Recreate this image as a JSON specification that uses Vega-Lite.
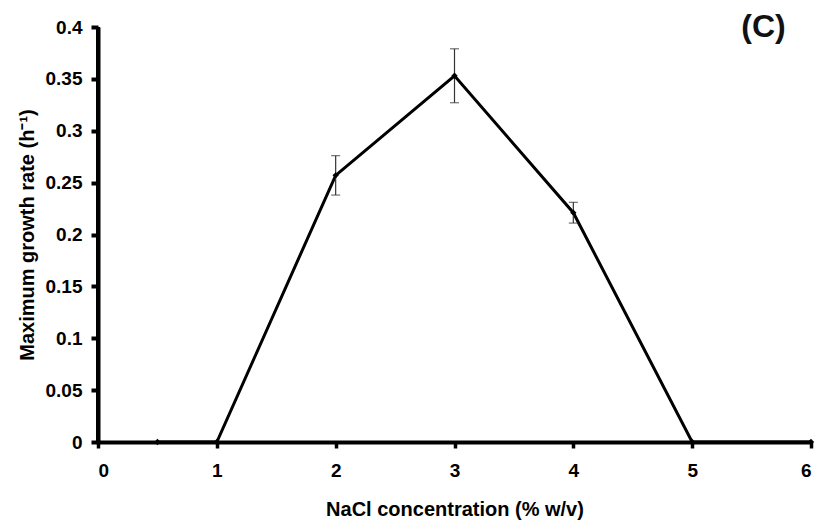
{
  "$schema": "https://vega.github.io/schema/vega-lite/v6.json",
  "width": 713,
  "height": 415,
  "autosize": {"type": "none"},
  "padding": {"left": 98, "top": 27, "right": 7, "bottom": 84},
  "background": "white",
  "config": {
    "view": {"stroke": null},
    "font": "Liberation Sans",
    "axis": {"domainColor": "black", "domainWidth": 4, "tickColor": "black", "tickWidth": 3.5, "tickSize": 6, "grid": false}
  },
  "data": {
    "values": [
      {"x": 0.5, "y": 0, "lo": 0, "hi": 0},
      {"x": 1, "y": 0, "lo": 0, "hi": 0},
      {"x": 2, "y": 0.257, "lo": 0.238, "hi": 0.276},
      {"x": 3, "y": 0.353, "lo": 0.327, "hi": 0.379},
      {"x": 4, "y": 0.221, "lo": 0.211, "hi": 0.231},
      {"x": 5, "y": 0, "lo": 0, "hi": 0},
      {"x": 6, "y": 0, "lo": 0, "hi": 0}
    ]
  },
  "layer": [
    {
      "mark": {"type": "line", "color": "black", "strokeWidth": 3},
      "encoding": {
        "x": {"field": "x", "type": "quantitative", "scale": {"domain": [0, 6], "nice": false},
              "axis": {"values": [0, 1, 2, 3, 4, 5, 6], "format": "d", "title": "NaCl concentration (% w/v)",
                       "domainColor": "black", "domainWidth": 4, "tickColor": "black", "tickWidth": 3.5, "tickSize": 6, "grid": false,
                       "labelFont": "Liberation Sans", "labelFontWeight": "bold", "labelFontSize": 19, "labelColor": "black",
                       "titleFont": "Liberation Sans", "titleFontWeight": "bold", "titleFontSize": 20, "titleColor": "black",
                       "labelPadding": 13, "titlePadding": 19}},
        "y": {"field": "y", "type": "quantitative", "scale": {"domain": [0, 0.4], "nice": false},
              "axis": {"values": [0, 0.05, 0.1, 0.15, 0.2, 0.25, 0.3, 0.35, 0.4], "format": "~g", "title": "Maximum growth rate (h⁻¹)",
                       "domainColor": "black", "domainWidth": 4, "tickColor": "black", "tickWidth": 4, "tickSize": 7, "grid": false,
                       "labelFont": "Liberation Sans", "labelFontWeight": "bold", "labelFontSize": 19, "labelColor": "black",
                       "titleFont": "Liberation Sans", "titleFontWeight": "bold", "titleFontSize": 20, "titleColor": "black",
                       "labelPadding": 9, "titlePadding": 8}}
      }
    },
    {
      "data": {"values": [{"x": 0, "y0": 0, "y1": 0.4}]},
      "mark": {"type": "rule", "color": "black", "strokeWidth": 4},
      "encoding": {
        "x": {"field": "x", "type": "quantitative"},
        "y": {"field": "y0", "type": "quantitative"},
        "y2": {"field": "y1"}
      }
    },
    {
      "transform": [{"filter": "datum.hi > datum.lo"}],
      "mark": {"type": "rule", "color": "#333333", "strokeWidth": 1.2},
      "encoding": {
        "x": {"field": "x", "type": "quantitative"},
        "y": {"field": "lo", "type": "quantitative"},
        "y2": {"field": "hi"}
      }
    },
    {
      "transform": [{"filter": "datum.hi > datum.lo"}],
      "mark": {"type": "tick", "color": "#333333", "thickness": 1.2, "size": 9, "orient": "horizontal"},
      "encoding": {
        "x": {"field": "x", "type": "quantitative"},
        "y": {"field": "lo", "type": "quantitative"}
      }
    },
    {
      "transform": [{"filter": "datum.hi > datum.lo"}],
      "mark": {"type": "tick", "color": "#333333", "thickness": 1.2, "size": 9, "orient": "horizontal"},
      "encoding": {
        "x": {"field": "x", "type": "quantitative"},
        "y": {"field": "hi", "type": "quantitative"}
      }
    },
    {
      "mark": {"type": "point", "shape": "diamond", "filled": true, "color": "black", "size": 40, "opacity": 1},
      "encoding": {
        "x": {"field": "x", "type": "quantitative"},
        "y": {"field": "y", "type": "quantitative"}
      }
    },
    {
      "data": {"values": [{"x": 5.6, "y": 0.4, "label": "(C)"}]},
      "mark": {"type": "text", "fontSize": 32, "fontWeight": "bold", "font": "Liberation Sans", "color": "#111111", "align": "center", "baseline": "middle"},
      "encoding": {
        "x": {"field": "x", "type": "quantitative"},
        "y": {"field": "y", "type": "quantitative"},
        "text": {"field": "label"}
      }
    }
  ]
}
